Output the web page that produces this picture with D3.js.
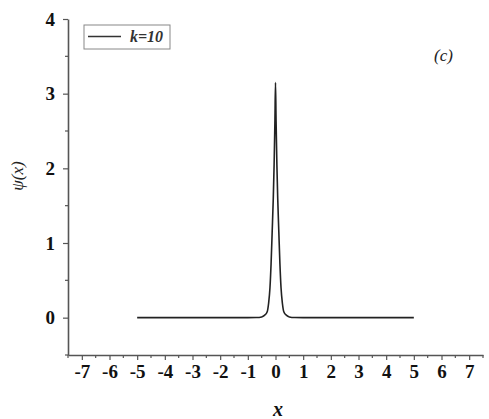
<!DOCTYPE html>
<html><head><meta charset="utf-8">
<script src="https://cdn.jsdelivr.net/npm/d3@7"></script>
<style>body{margin:0;background:#fff;}svg{display:block;}</style>
</head><body>
<svg id="c" width="489" height="419"></svg>
<script>
const xValues = [-5,-4,-3,-2,-1,-0.7,-0.5,-0.4,-0.3,-0.25,-0.2,-0.16,-0.12,-0.08,-0.05,-0.02,0,0.02,0.05,0.08,0.12,0.16,0.2,0.25,0.3,0.4,0.5,0.7,1,2,3,4,5];
const psiValues = [0,0,0,0,0,0.002,0.01,0.03,0.08,0.19,0.4,0.72,1.15,1.6,2.05,2.65,3.15,2.65,2.05,1.6,1.15,0.72,0.4,0.19,0.08,0.03,0.01,0.002,0,0,0,0,0];
const xTicks = [-7,-6,-5,-4,-3,-2,-1,0,1,2,3,4,5,6,7];
const yTicks = [0,1,2,3,4];
const seriesName = "k=10";
const panelLabel = "(c)";

const serif = "'Liberation Serif', 'Times New Roman', serif";
const svg = d3.select("#c");
const x = d3.scaleLinear().domain([-7.5,7.5]).range([68,483]);
const y = d3.scaleLinear().domain([-0.5,4]).range([355,19]);
const axisColor = "#555";

const xMinor = d3.range(-7.5,7.51,0.5).filter(v=>!xTicks.includes(v));
const yMinor = d3.range(-0.5,4.01,0.5).filter(v=>!yTicks.includes(v));

const gx = svg.append("g").attr("transform","translate(0,355)")
  .call(d3.axisBottom(x).tickValues(xTicks).tickSize(5).tickSizeOuter(0).tickPadding(5).tickFormat(d=>String(d)));
gx.append("g").selectAll("line").data(xMinor).join("line")
  .attr("x1",d=>x(d)).attr("x2",d=>x(d)).attr("y1",0).attr("y2",3).attr("stroke",axisColor).attr("stroke-width",1.2);
const gy = svg.append("g").attr("transform","translate(68,0)")
  .call(d3.axisLeft(y).tickValues(yTicks).tickSize(5).tickSizeOuter(0).tickPadding(8).tickFormat(d=>String(d)));
gy.append("g").selectAll("line").data(yMinor).join("line")
  .attr("y1",d=>y(d)).attr("y2",d=>y(d)).attr("x1",0).attr("x2",-3).attr("stroke",axisColor).attr("stroke-width",1.2);

[gx,gy].forEach(g=>{
  g.attr("font-family",null).attr("font-size",null);
  g.select(".domain").attr("stroke",axisColor).attr("stroke-width",1.6);
  g.selectAll(".tick line").attr("stroke",axisColor).attr("stroke-width",1.2);
  g.selectAll(".tick text").style("font-family",serif)
    .style("font-weight","bold").style("font-size","19px").attr("fill","#111");
});

const line = d3.line().x((d,i)=>x(xValues[i])).y(d=>y(d)).curve(d3.curveMonotoneX);
svg.append("path").datum(psiValues).attr("d",line).attr("fill","none")
  .attr("stroke","#222").attr("stroke-width",1.6);

const lg = svg.append("g");
lg.append("rect").attr("x",84).attr("y",25).attr("width",86).attr("height",24)
  .attr("fill","#fff").attr("stroke","#888").attr("stroke-width",1);
lg.append("line").attr("x1",88).attr("x2",121).attr("y1",36.5).attr("y2",36.5)
  .attr("stroke","#333").attr("stroke-width",1.6);
lg.append("text").attr("x",130).attr("y",42).text(seriesName)
  .style("font-family",serif).style("font-style","italic")
  .style("font-weight","bold").style("font-size","16px").attr("fill","#333");

svg.append("text").attr("x",434).attr("y",61).text(panelLabel)
  .style("font-family",serif).style("font-style","italic")
  .style("font-size","17px").attr("fill","#222");

svg.append("text").attr("transform","translate(23,176) rotate(-90)").attr("text-anchor","middle")
  .text("ψ(x)").style("font-family",serif)
  .style("font-style","italic").style("font-size","17px").attr("fill","#222");

svg.append("text").attr("x",278).attr("y",416).attr("text-anchor","middle").text("x")
  .style("font-family",serif).style("font-style","italic")
  .style("font-weight","bold").style("font-size","20px").attr("fill","#111");
</script>
</body></html>
